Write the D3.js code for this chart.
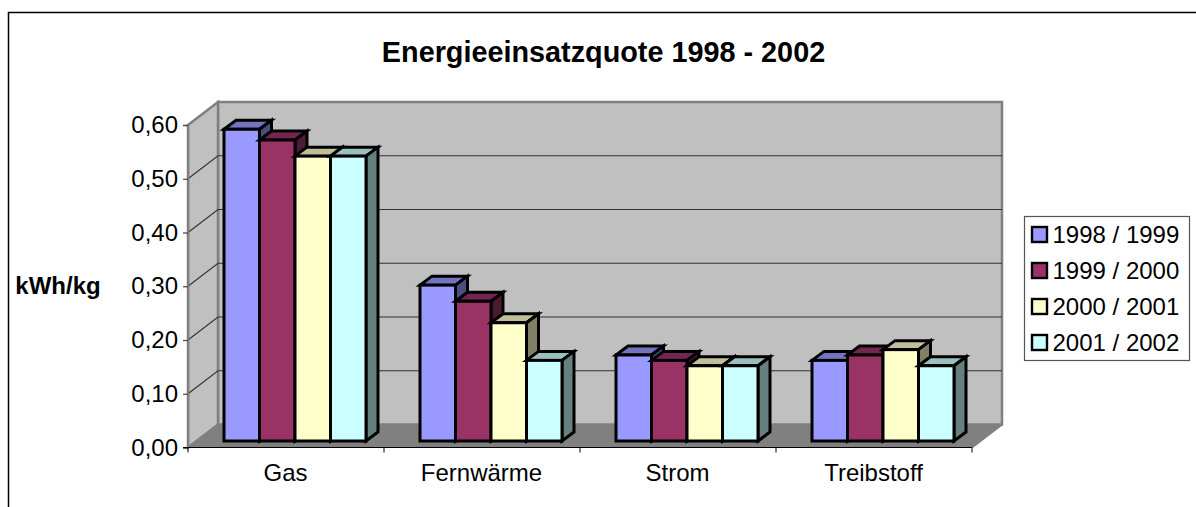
<!DOCTYPE html>
<html><head><meta charset="utf-8">
<script src="https://cdn.jsdelivr.net/npm/d3@7"></script>
<style>html,body{margin:0;padding:0;background:#fff}svg{display:block}text{font-family:"Liberation Sans",Arial,sans-serif;fill:#000}</style>
</head><body><svg id="c" width="1196" height="507"></svg>
<script>
const categories = ["Gas","Fernwärme","Strom","Treibstoff"];
const seriesNames = ["1998 / 1999","1999 / 2000","2000 / 2001","2001 / 2002"];
const s1 = [0.58,0.29,0.16,0.15];
const s2 = [0.56,0.26,0.15,0.16];
const s3 = [0.53,0.22,0.14,0.17];
const s4 = [0.53,0.15,0.14,0.14];
const fronts = ["#9999FF","#993366","#FFFFCC","#CCFFFF"];
const tops = ["#7373BF","#732650","#BFBF99","#99BFBF"];
const sides = ["#4D4D80","#4D1A33","#808066","#668080"];
const ticks = [0,0.1,0.2,0.3,0.4,0.5,0.6];
const title = "Energieeinsatzquote 1998 - 2002";
const yTitle = "kWh/kg";

const series = [s1,s2,s3,s4];
const svg = d3.select("#c");
const left=188, right=972, base=447.5, dx=30, dy=-23;
const y = d3.scaleLinear().domain([0,0.6]).range([base,125]);
const x0 = d3.scaleBand().domain(categories).range([left,right]);
const x1 = d3.scaleBand().domain(d3.range(4)).range([36,178]);
const fmt = v => d3.format(".2f")(v).replace(".",",");
const poly = pts => pts.map(p=>p.join(",")).join(" ");

// outer frame
svg.append("path").attr("d","M8.5,507V12.5H1196").attr("fill","none").attr("stroke","#000").attr("stroke-width",1.5);

// walls and floor
const wallTop=y(0.6);
svg.append("polygon").attr("points",poly([[left+dx,wallTop+dy],[right+dx,wallTop+dy],[right+dx,base+dy],[left+dx,base+dy]])).attr("fill","#C0C0C0").attr("stroke","#808080").attr("stroke-width",2.5);
svg.append("polygon").attr("points",poly([[left,wallTop],[left+dx,wallTop+dy],[left+dx,base+dy],[left,base]])).attr("fill","#C0C0C0").attr("stroke","#808080").attr("stroke-width",2.5);
svg.append("polygon").attr("points",poly([[left,base],[left+dx,base+dy],[right+dx,base+dy],[right,base]])).attr("fill","#808080");
svg.append("path").attr("d",`M${right},${base}L${right+dx},${base+dy}V${wallTop+dy}`).attr("fill","none").attr("stroke","#808080").attr("stroke-width",2);

// gridlines
svg.append("g").selectAll("path").data(ticks.slice(1,-1)).join("path")
  .attr("d",d=>`M${left},${y(d)}L${left+dx},${y(d)+dy}H${right+dx}`)
  .attr("fill","none").attr("stroke","#333").attr("stroke-width",1.2);

// axes
const yAxis = d3.axisLeft(y).tickValues(ticks).tickFormat(fmt).tickSize(5).tickPadding(5);
const gy = svg.append("g").attr("transform",`translate(${left},0)`).call(yAxis);
gy.select(".domain").attr("stroke","#808080").attr("stroke-width",1.5);
gy.selectAll(".tick line").attr("stroke","#444").attr("stroke-width",1.2);
gy.selectAll("text").attr("font-size",24);
gy.attr("font-family",null).attr("font-size",null);
const xTicks = d3.range(categories.length+1).map(i=>left+i*x0.bandwidth());
svg.append("g").selectAll("line").data(xTicks).join("line")
  .attr("x1",d=>d).attr("x2",d=>d).attr("y1",base).attr("y2",base+5).attr("stroke","#000").attr("stroke-width",1);
svg.append("line").attr("x1",left-5).attr("x2",right).attr("y1",base).attr("y2",base).attr("stroke","#000").attr("stroke-width",1.2);
svg.append("g").selectAll("text").data(categories).join("text")
  .attr("x",d=>x0(d)+x0.bandwidth()/2-0.5).attr("y",480.5).attr("text-anchor","middle").attr("font-size",24).text(d=>d);

// bars
const bdx=12, bdy=-9, lift=-6.5;
categories.forEach((c,ci)=>{
  series.forEach((vals,si)=>{
    const g=svg.append("g").attr("stroke","#000").attr("stroke-width",3).attr("stroke-linejoin","miter");
    const bx=x0(c)+x1(si), w=x1.bandwidth(), by=base+lift, ty=y(vals[ci])+lift;
    g.append("polygon").attr("points",poly([[bx,ty],[bx+bdx,ty+bdy],[bx+w+bdx,ty+bdy],[bx+w,ty]])).attr("fill",tops[si]);
    g.append("polygon").attr("points",poly([[bx+w,ty],[bx+w+bdx,ty+bdy],[bx+w+bdx,by+bdy],[bx+w,by]])).attr("fill",sides[si]);
    g.append("rect").attr("x",bx).attr("y",ty).attr("width",w).attr("height",by-ty).attr("fill",fronts[si]);
  });
});

// titles
svg.append("text").attr("x",603.5).attr("y",62).attr("text-anchor","middle").attr("font-size",28.8).attr("font-weight","bold").text(title);
svg.append("text").attr("x",58).attr("y",294).attr("text-anchor","middle").attr("font-size",24).attr("font-weight","bold").text(yTitle);

// legend
svg.append("rect").attr("x",1024.5).attr("y",216.5).attr("width",165).attr("height",144).attr("fill","#fff").attr("stroke","#555").attr("stroke-width",1.2);
const rows=svg.append("g").selectAll("g").data(seriesNames).join("g").attr("transform",(d,i)=>`translate(0,${234.5+i*36})`);
rows.append("rect").attr("x",1032).attr("y",-7.5).attr("width",15).attr("height",15).attr("fill",(d,i)=>fronts[i]).attr("stroke","#000").attr("stroke-width",2.4);
rows.append("text").attr("x",1052.5).attr("y",8.5).attr("font-size",24).text(d=>d);
</script></body></html>
